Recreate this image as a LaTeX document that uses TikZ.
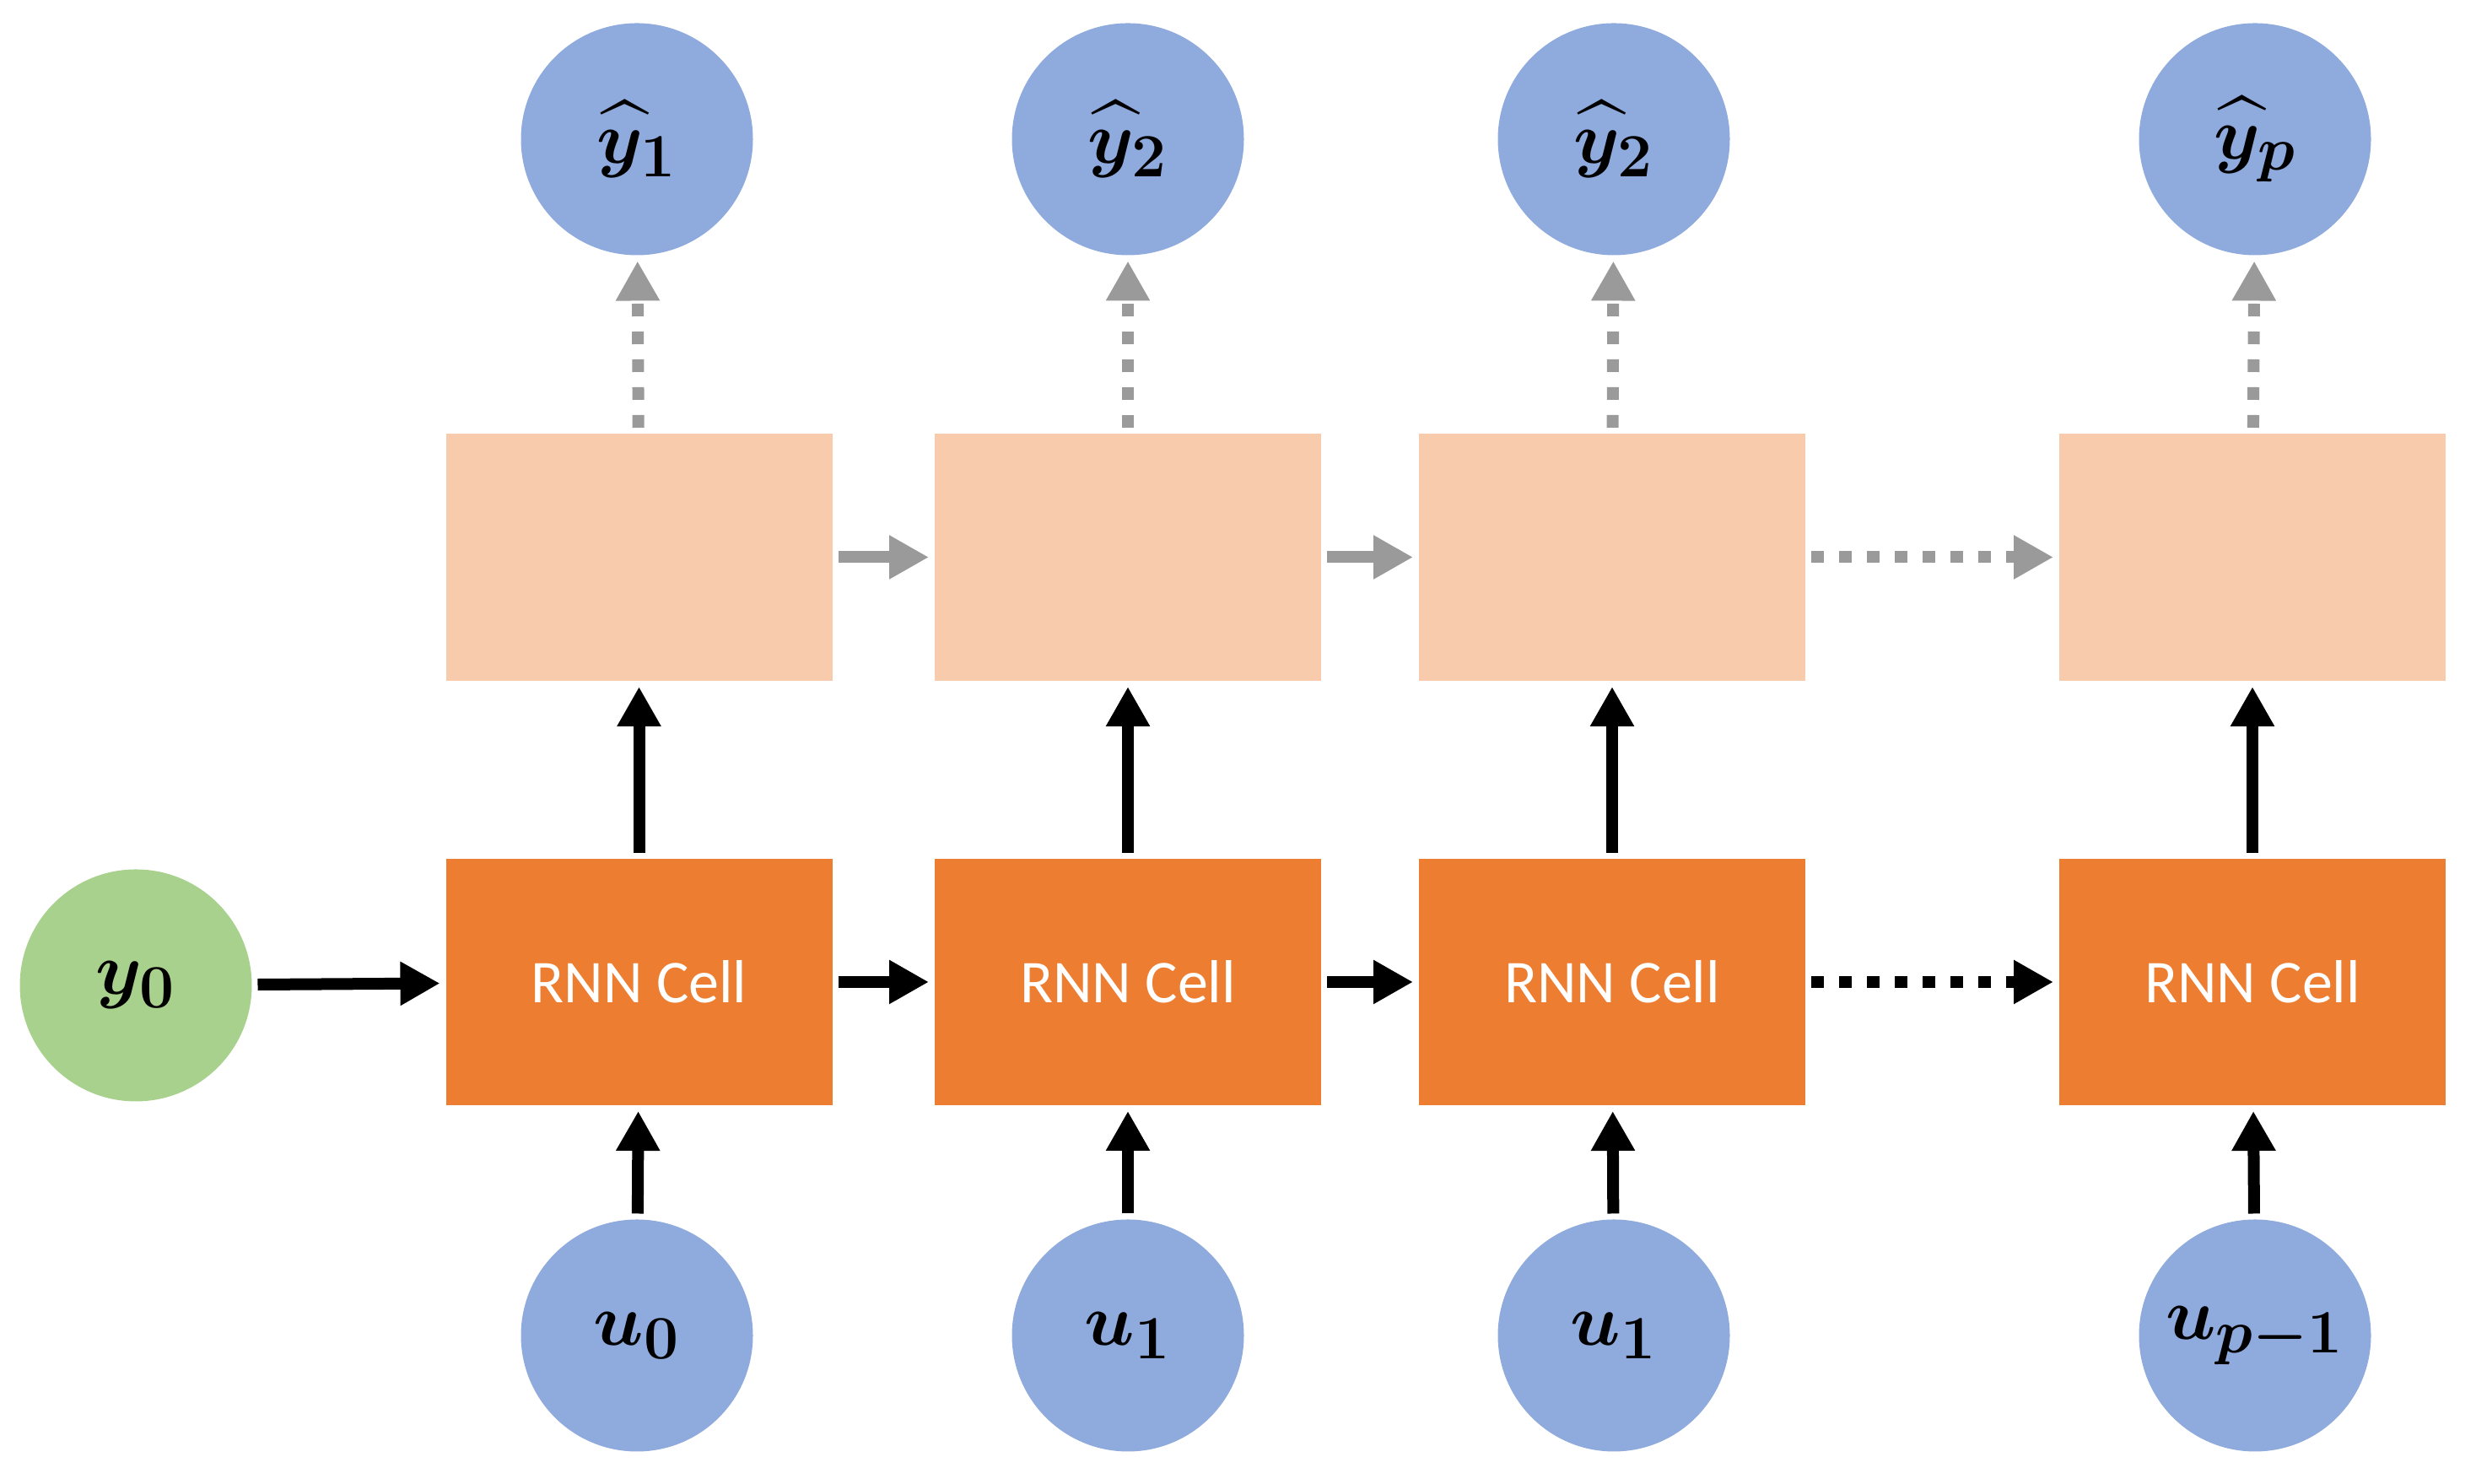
\documentclass[tikz,border=0pt]{standalone}
\usepackage{amsmath,amssymb,bm}
\usepackage{fontspec}
\setsansfont{Carlito}
\usepackage{tikz}
\usetikzlibrary{arrows.meta, positioning}

\definecolor{cellorange}{HTML}{ED7D31}
\definecolor{hidpeach}{HTML}{F8CBAD}
\definecolor{ioblue}{HTML}{8FAADC}
\definecolor{startgreen}{HTML}{A9D18E}
\definecolor{passgray}{HTML}{9A9A9A}

\begin{document}
\begin{tikzpicture}[->,>={Triangle[length=0.47cm,width=0.49cm]}, line width=0.14cm, auto]
    \tikzstyle{cell}=[shape=rectangle, fill=cellorange, draw=none, text=white, minimum width=4.58cm, minimum height=2.92cm, font=\sffamily\fontsize{20.5}{24}\selectfont]
    \tikzstyle{hid}=[shape=rectangle, fill=hidpeach, draw=none, minimum width=4.58cm, minimum height=2.93cm]
    \tikzstyle{io}=[shape=circle, fill=ioblue, draw=none, minimum size=2.75cm, inner sep=0pt, font=\fontsize{29}{32}\selectfont\boldmath]
    \tikzstyle{start}=[io, fill=startgreen]
    \tikzstyle{pass}=[draw=passgray]
    \tikzstyle{skip}=[dash pattern=on 0.15cm off 0.18cm]

    \useasboundingbox (0,0) rectangle (29.35,17.59);

    \node[start] (y0) at (1.61,5.91)    {$y_0$};

    \node[cell]  (c1) at (7.575,5.95)   {RNN Cell};
    \node[cell]  (c2) at (13.37,5.95)   {RNN Cell};
    \node[cell]  (c3) at (19.11,5.95)   {RNN Cell};
    \node[cell]  (c4) at (26.70,5.95)   {RNN Cell};

    \node[hid]   (h1) at (7.575,10.985) {};
    \node[hid]   (h2) at (13.37,10.985) {};
    \node[hid]   (h3) at (19.11,10.985) {};
    \node[hid]   (h4) at (26.70,10.985) {};

    \node[io]    (o1) at (7.55,15.94)   {$\widehat{y}_1$};
    \node[io]    (o2) at (13.37,15.94)  {$\widehat{y}_2$};
    \node[io]    (o3) at (19.13,15.94)  {$\widehat{y}_2$};
    \node[io]    (o4) at (26.73,15.94)  {$\widehat{y}_p$};

    \node[io]    (i1) at (7.55,1.76)    {$u_0$};
    \node[io]    (i2) at (13.37,1.76)   {$u_1$};
    \node[io]    (i3) at (19.13,1.76)   {$u_1$};
    \node[io]    (i4) at (26.73,1.76)   {$u_{p-1}$};

    \path
    (y0)    edge[->]            node{} (c1)
    (c1)    edge[->]            node{} (c2)
    (c2)    edge[->]            node{} (c3)
    (c3)    edge[->, skip]      node{} (c4)
    (i1)    edge[->]            node{} (c1)
    (i2)    edge[->]            node{} (c2)
    (i3)    edge[->]            node{} (c3)
    (i4)    edge[->]            node{} (c4)
    (c1)    edge[->]            node{} (h1)
    (c2)    edge[->]            node{} (h2)
    (c3)    edge[->]            node{} (h3)
    (c4)    edge[->]            node{} (h4)
    (h1)    edge[->, pass]      node{} (h2)
    (h2)    edge[->, pass]      node{} (h3)
    (h3)    edge[->, pass, skip] node{} (h4)
    (h1)    edge[->, pass, skip] node{} (o1)
    (h2)    edge[->, pass, skip] node{} (o2)
    (h3)    edge[->, pass, skip] node{} (o3)
    (h4)    edge[->, pass, skip] node{} (o4)
            ;

\end{tikzpicture}
\end{document}
